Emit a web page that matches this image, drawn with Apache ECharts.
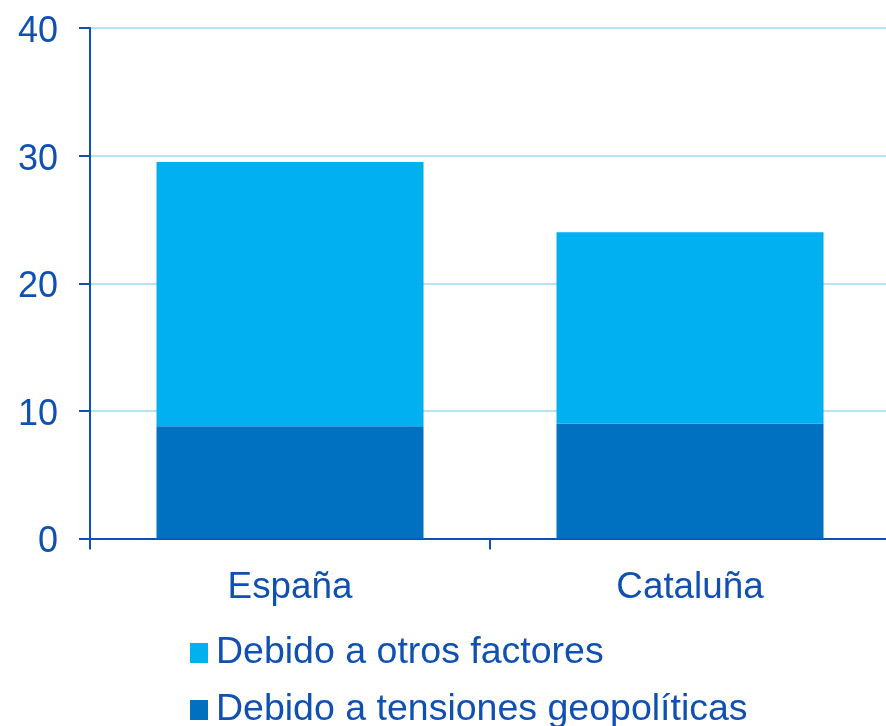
<!DOCTYPE html>
<html>
<head>
<meta charset="utf-8">
<script src="https://cdn.jsdelivr.net/npm/echarts@6/dist/echarts.min.js"></script>
<style>html,body{margin:0;padding:0;background:#fff}#c{width:886px;height:726px}</style>
</head>
<body>
<div id="c"></div>
<script>
const categories = ['España', 'Cataluña'];
const geopoliticas = [8.8, 9.0];
const otros = [20.7, 15.0];
const seriesNames = ['Debido a tensiones geopolíticas', 'Debido a otros factores'];
const legendOrder = ['Debido a otros factores', 'Debido a tensiones geopolíticas'];

const textColor = '#1050B2';
const font = 'Liberation Sans, Arial, sans-serif';
const legendBase = {
  orient: 'vertical', left: 185, icon: 'rect', itemWidth: 18, itemHeight: 20,
  textStyle: { color: textColor, fontSize: 37.5, fontFamily: font, padding: [3, 0, 0, 3] }
};
const chart = echarts.init(document.getElementById('c'));
chart.setOption({
  animation: false,
  textStyle: { fontFamily: font },
  grid: { left: 90, width: 800, top: 28, bottom: 187.5, containLabel: false, outerBoundsMode: 'none' },
  legend: [
    Object.assign({}, legendBase, { top: 629, data: [legendOrder[0]] }),
    Object.assign({}, legendBase, { top: 686, data: [legendOrder[1]] })
  ],
  xAxis: {
    type: 'category', data: categories,
    axisLine: { lineStyle: { color: textColor, width: 2 } },
    axisTick: { show: true, length: 11, lineStyle: { color: textColor, width: 2 } },
    axisLabel: { color: textColor, fontSize: 36.8, margin: 31 }
  },
  yAxis: {
    type: 'value', min: 0, max: 40, interval: 10,
    axisLine: { show: true, lineStyle: { color: textColor, width: 2 } },
    axisTick: { show: true, length: 11, lineStyle: { color: textColor, width: 2 } },
    axisLabel: {
      color: textColor, fontSize: 36, margin: 32,
      formatter: '{v|{value}}',
      rich: { v: { color: textColor, fontSize: 36, fontFamily: font, padding: [8, 0, 0, 0] } }
    },
    splitLine: { lineStyle: { color: '#B4E3F7', width: 2 } }
  },
  series: [
    { name: seriesNames[0], type: 'bar', stack: 'a', data: geopoliticas, barWidth: 267, itemStyle: { color: '#0070C0' } },
    { name: seriesNames[1], type: 'bar', stack: 'a', data: otros, barWidth: 267, itemStyle: { color: '#00B0F0' } }
  ]
});
</script>
</body>
</html>
